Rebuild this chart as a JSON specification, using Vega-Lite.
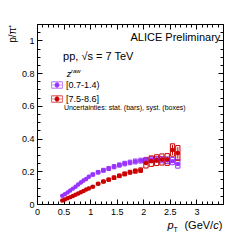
{
"$schema":"https://vega.github.io/schema/vega-lite/v6.json",
"width":186,"height":180,
"autosize":{"type":"none"},
"padding":{"left":37,"top":24,"right":25,"bottom":37},
"background":"white",
"config":{"view":{"stroke":null},"font":"Liberation Sans","axis":{"grid":false,"labelFont":"Liberation Sans","labelColor":"black","tickColor":"black","domainColor":"black","titleFont":"Liberation Sans","titleColor":"black","titleFontWeight":"normal"},"text":{"font":"Liberation Sans","color":"black"}},
"datasets":{"pts":[
{"s":"[0.7-1.4)","x":0.475,"y":0.050,"lo":0.048,"hi":0.052,"slo":0.046,"shi":0.054,"xlo":0.455,"xhi":0.495},
{"s":"[0.7-1.4)","x":0.525,"y":0.060,"lo":0.058,"hi":0.062,"slo":0.055,"shi":0.065,"xlo":0.505,"xhi":0.545},
{"s":"[0.7-1.4)","x":0.575,"y":0.071,"lo":0.069,"hi":0.073,"slo":0.066,"shi":0.076,"xlo":0.555,"xhi":0.595},
{"s":"[0.7-1.4)","x":0.625,"y":0.082,"lo":0.080,"hi":0.084,"slo":0.076,"shi":0.088,"xlo":0.605,"xhi":0.645},
{"s":"[0.7-1.4)","x":0.675,"y":0.094,"lo":0.092,"hi":0.096,"slo":0.088,"shi":0.100,"xlo":0.655,"xhi":0.695},
{"s":"[0.7-1.4)","x":0.725,"y":0.106,"lo":0.104,"hi":0.108,"slo":0.099,"shi":0.113,"xlo":0.705,"xhi":0.745},
{"s":"[0.7-1.4)","x":0.775,"y":0.119,"lo":0.117,"hi":0.121,"slo":0.112,"shi":0.126,"xlo":0.755,"xhi":0.795},
{"s":"[0.7-1.4)","x":0.825,"y":0.132,"lo":0.130,"hi":0.134,"slo":0.124,"shi":0.140,"xlo":0.805,"xhi":0.845},
{"s":"[0.7-1.4)","x":0.875,"y":0.143,"lo":0.141,"hi":0.145,"slo":0.135,"shi":0.151,"xlo":0.855,"xhi":0.895},
{"s":"[0.7-1.4)","x":0.925,"y":0.153,"lo":0.151,"hi":0.155,"slo":0.144,"shi":0.162,"xlo":0.905,"xhi":0.945},
{"s":"[0.7-1.4)","x":0.975,"y":0.166,"lo":0.164,"hi":0.168,"slo":0.157,"shi":0.175,"xlo":0.955,"xhi":0.995},
{"s":"[0.7-1.4)","x":1.05,"y":0.180,"lo":0.177,"hi":0.183,"slo":0.170,"shi":0.190,"xlo":1.015,"xhi":1.085},
{"s":"[0.7-1.4)","x":1.15,"y":0.194,"lo":0.191,"hi":0.197,"slo":0.183,"shi":0.205,"xlo":1.115,"xhi":1.185},
{"s":"[0.7-1.4)","x":1.25,"y":0.206,"lo":0.203,"hi":0.209,"slo":0.194,"shi":0.218,"xlo":1.215,"xhi":1.285},
{"s":"[0.7-1.4)","x":1.35,"y":0.217,"lo":0.214,"hi":0.220,"slo":0.205,"shi":0.229,"xlo":1.315,"xhi":1.385},
{"s":"[0.7-1.4)","x":1.45,"y":0.228,"lo":0.225,"hi":0.231,"slo":0.215,"shi":0.241,"xlo":1.415,"xhi":1.485},
{"s":"[0.7-1.4)","x":1.55,"y":0.238,"lo":0.234,"hi":0.242,"slo":0.225,"shi":0.251,"xlo":1.515,"xhi":1.585},
{"s":"[0.7-1.4)","x":1.65,"y":0.247,"lo":0.243,"hi":0.251,"slo":0.233,"shi":0.261,"xlo":1.615,"xhi":1.685},
{"s":"[0.7-1.4)","x":1.75,"y":0.254,"lo":0.250,"hi":0.258,"slo":0.240,"shi":0.268,"xlo":1.715,"xhi":1.785},
{"s":"[0.7-1.4)","x":1.85,"y":0.260,"lo":0.256,"hi":0.264,"slo":0.245,"shi":0.275,"xlo":1.815,"xhi":1.885},
{"s":"[0.7-1.4)","x":1.95,"y":0.265,"lo":0.260,"hi":0.270,"slo":0.250,"shi":0.280,"xlo":1.915,"xhi":1.985},
{"s":"[0.7-1.4)","x":2.05,"y":0.269,"lo":0.264,"hi":0.274,"slo":0.253,"shi":0.285,"xlo":2.01,"xhi":2.09},
{"s":"[0.7-1.4)","x":2.15,"y":0.272,"lo":0.266,"hi":0.278,"slo":0.255,"shi":0.289,"xlo":2.11,"xhi":2.19},
{"s":"[0.7-1.4)","x":2.25,"y":0.273,"lo":0.267,"hi":0.279,"slo":0.255,"shi":0.291,"xlo":2.21,"xhi":2.29},
{"s":"[0.7-1.4)","x":2.35,"y":0.271,"lo":0.264,"hi":0.278,"slo":0.252,"shi":0.290,"xlo":2.31,"xhi":2.39},
{"s":"[0.7-1.4)","x":2.45,"y":0.267,"lo":0.259,"hi":0.275,"slo":0.247,"shi":0.287,"xlo":2.41,"xhi":2.49},
{"s":"[0.7-1.4)","x":2.55,"y":0.262,"lo":0.252,"hi":0.272,"slo":0.240,"shi":0.284,"xlo":2.51,"xhi":2.59},
{"s":"[0.7-1.4)","x":2.65,"y":0.245,"lo":0.233,"hi":0.257,"slo":0.219,"shi":0.271,"xlo":2.61,"xhi":2.69},
{"s":"[7.5-8.6]","x":0.475,"y":0.022,"lo":0.020,"hi":0.024,"slo":0.019,"shi":0.025,"xlo":0.455,"xhi":0.495},
{"s":"[7.5-8.6]","x":0.525,"y":0.028,"lo":0.026,"hi":0.030,"slo":0.025,"shi":0.031,"xlo":0.505,"xhi":0.545},
{"s":"[7.5-8.6]","x":0.575,"y":0.035,"lo":0.033,"hi":0.037,"slo":0.032,"shi":0.038,"xlo":0.555,"xhi":0.595},
{"s":"[7.5-8.6]","x":0.625,"y":0.042,"lo":0.040,"hi":0.044,"slo":0.038,"shi":0.046,"xlo":0.605,"xhi":0.645},
{"s":"[7.5-8.6]","x":0.675,"y":0.049,"lo":0.047,"hi":0.051,"slo":0.045,"shi":0.053,"xlo":0.655,"xhi":0.695},
{"s":"[7.5-8.6]","x":0.725,"y":0.056,"lo":0.054,"hi":0.058,"slo":0.052,"shi":0.060,"xlo":0.705,"xhi":0.745},
{"s":"[7.5-8.6]","x":0.775,"y":0.064,"lo":0.062,"hi":0.066,"slo":0.059,"shi":0.069,"xlo":0.755,"xhi":0.795},
{"s":"[7.5-8.6]","x":0.825,"y":0.072,"lo":0.070,"hi":0.074,"slo":0.067,"shi":0.077,"xlo":0.805,"xhi":0.845},
{"s":"[7.5-8.6]","x":0.875,"y":0.080,"lo":0.078,"hi":0.082,"slo":0.074,"shi":0.086,"xlo":0.855,"xhi":0.895},
{"s":"[7.5-8.6]","x":0.925,"y":0.088,"lo":0.086,"hi":0.090,"slo":0.082,"shi":0.094,"xlo":0.905,"xhi":0.945},
{"s":"[7.5-8.6]","x":0.975,"y":0.095,"lo":0.093,"hi":0.097,"slo":0.088,"shi":0.102,"xlo":0.955,"xhi":0.995},
{"s":"[7.5-8.6]","x":1.05,"y":0.106,"lo":0.103,"hi":0.109,"slo":0.099,"shi":0.113,"xlo":1.015,"xhi":1.085},
{"s":"[7.5-8.6]","x":1.15,"y":0.124,"lo":0.121,"hi":0.127,"slo":0.116,"shi":0.132,"xlo":1.115,"xhi":1.185},
{"s":"[7.5-8.6]","x":1.25,"y":0.137,"lo":0.134,"hi":0.140,"slo":0.128,"shi":0.146,"xlo":1.215,"xhi":1.285},
{"s":"[7.5-8.6]","x":1.35,"y":0.149,"lo":0.145,"hi":0.153,"slo":0.139,"shi":0.159,"xlo":1.315,"xhi":1.385},
{"s":"[7.5-8.6]","x":1.45,"y":0.161,"lo":0.157,"hi":0.165,"slo":0.150,"shi":0.172,"xlo":1.415,"xhi":1.485},
{"s":"[7.5-8.6]","x":1.55,"y":0.172,"lo":0.168,"hi":0.176,"slo":0.161,"shi":0.183,"xlo":1.515,"xhi":1.585},
{"s":"[7.5-8.6]","x":1.65,"y":0.184,"lo":0.179,"hi":0.189,"slo":0.172,"shi":0.196,"xlo":1.615,"xhi":1.685},
{"s":"[7.5-8.6]","x":1.75,"y":0.194,"lo":0.189,"hi":0.199,"slo":0.182,"shi":0.206,"xlo":1.715,"xhi":1.785},
{"s":"[7.5-8.6]","x":1.85,"y":0.201,"lo":0.195,"hi":0.207,"slo":0.188,"shi":0.214,"xlo":1.815,"xhi":1.885},
{"s":"[7.5-8.6]","x":1.95,"y":0.207,"lo":0.201,"hi":0.213,"slo":0.193,"shi":0.221,"xlo":1.915,"xhi":1.985},
{"s":"[7.5-8.6]","x":2.05,"y":0.250,"lo":0.238,"hi":0.262,"slo":0.220,"shi":0.280,"xlo":2.01,"xhi":2.09},
{"s":"[7.5-8.6]","x":2.15,"y":0.262,"lo":0.250,"hi":0.274,"slo":0.230,"shi":0.294,"xlo":2.11,"xhi":2.19},
{"s":"[7.5-8.6]","x":2.25,"y":0.268,"lo":0.255,"hi":0.281,"slo":0.235,"shi":0.301,"xlo":2.21,"xhi":2.29},
{"s":"[7.5-8.6]","x":2.35,"y":0.272,"lo":0.257,"hi":0.287,"slo":0.238,"shi":0.306,"xlo":2.31,"xhi":2.39},
{"s":"[7.5-8.6]","x":2.45,"y":0.272,"lo":0.254,"hi":0.290,"slo":0.236,"shi":0.308,"xlo":2.41,"xhi":2.49},
{"s":"[7.5-8.6]","x":2.55,"y":0.330,"lo":0.300,"hi":0.360,"slo":0.292,"shi":0.368,"xlo":2.51,"xhi":2.59},
{"s":"[7.5-8.6]","x":2.65,"y":0.312,"lo":0.277,"hi":0.347,"slo":0.267,"shi":0.357,"xlo":2.61,"xhi":2.69}
]},
"resolve":{"axis":{"x":"independent","y":"independent"}},
"layer":[
{"data":{"name":"pts"},"mark":{"type":"rect","filled":false,"strokeWidth":1},
 "encoding":{
  "x":{"field":"xlo","type":"quantitative","scale":{"domain":[0,3.5],"nice":false,"zero":false},
   "axis":{"orient":"bottom","values":[0,0.5,1,1.5,2,2.5,3],"format":"~g","tickSize":-5,"labelFontSize":9,"labelPadding":8,"labelFlush":false,"labelOverlap":false,"domain":true,"title":null}},
  "x2":{"field":"xhi"},
  "y":{"field":"slo","type":"quantitative","scale":{"domain":[0,1.1],"nice":false,"zero":false},
   "axis":{"orient":"left","values":[0,0.2,0.4,0.6,0.8,1],"format":"~g","tickSize":-5,"labelFontSize":9,"labelPadding":8,"labelFlush":false,"labelOverlap":false,"domain":true,"title":"p/π⁺","titleAnchor":"end","titleFontSize":10,"titlePadding":4}},
  "y2":{"field":"shi"},
  "color":{"field":"s","type":"nominal","scale":{"domain":["[0.7-1.4)","[7.5-8.6]"],"range":["#9933ff","#cc0000"]}}
 }},
{"data":{"name":"pts"},"mark":{"type":"rule","strokeWidth":1},
 "encoding":{
  "x":{"field":"x","type":"quantitative","scale":{"domain":[0,3.5],"nice":false,"zero":false},
   "axis":{"orient":"bottom","values":[0,0.1,0.2,0.3,0.4,0.5,0.6,0.7,0.8,0.9,1,1.1,1.2,1.3,1.4,1.5,1.6,1.7,1.8,1.9,2,2.1,2.2,2.3,2.4,2.5,2.6,2.7,2.8,2.9,3,3.1,3.2,3.3,3.4,3.5],"tickSize":-3,"labels":false,"domain":false,"title":null}},
  "y":{"field":"lo","type":"quantitative","scale":{"domain":[0,1.1],"nice":false,"zero":false},
   "axis":{"orient":"left","values":[0,0.05,0.1,0.15,0.2,0.25,0.3,0.35,0.4,0.45,0.5,0.55,0.6,0.65,0.7,0.75,0.8,0.85,0.9,0.95,1,1.05,1.1],"tickSize":-3,"labels":false,"domain":false,"title":null}},
  "y2":{"field":"hi"},
  "color":{"field":"s","type":"nominal","scale":{"domain":["[0.7-1.4)","[7.5-8.6]"],"range":["#9933ff","#cc0000"]}}
 }},
{"data":{"name":"pts"},"mark":{"type":"rule","strokeWidth":1},
 "encoding":{
  "x":{"field":"xlo","type":"quantitative","scale":{"domain":[0,3.5],"nice":false,"zero":false},
   "axis":{"orient":"top","values":[0,0.1,0.2,0.3,0.4,0.5,0.6,0.7,0.8,0.9,1,1.1,1.2,1.3,1.4,1.5,1.6,1.7,1.8,1.9,2,2.1,2.2,2.3,2.4,2.5,2.6,2.7,2.8,2.9,3,3.1,3.2,3.3,3.4,3.5],"tickSize":-3,"labels":false,"domain":false,"title":null}},
  "x2":{"field":"xhi"},
  "y":{"field":"y","type":"quantitative","scale":{"domain":[0,1.1],"nice":false,"zero":false},
   "axis":{"orient":"right","values":[0,0.05,0.1,0.15,0.2,0.25,0.3,0.35,0.4,0.45,0.5,0.55,0.6,0.65,0.7,0.75,0.8,0.85,0.9,0.95,1,1.05,1.1],"tickSize":-3,"labels":false,"domain":false,"title":null}},
  "color":{"field":"s","type":"nominal","scale":{"domain":["[0.7-1.4)","[7.5-8.6]"],"range":["#9933ff","#cc0000"]}}
 }},
{"data":{"name":"pts"},"mark":{"type":"point","filled":true,"shape":"circle","size":20,"opacity":1},
 "encoding":{
  "x":{"field":"x","type":"quantitative","scale":{"domain":[0,3.5],"nice":false,"zero":false},
   "axis":{"orient":"top","values":[0,0.5,1,1.5,2,2.5,3],"tickSize":-5,"labels":false,"domain":true,"title":null}},
  "y":{"field":"y","type":"quantitative","scale":{"domain":[0,1.1],"nice":false,"zero":false},
   "axis":{"orient":"right","values":[0,0.2,0.4,0.6,0.8,1],"tickSize":-5,"labels":false,"domain":true,"title":null}},
  "color":{"field":"s","type":"nominal","scale":{"domain":["[0.7-1.4)","[7.5-8.6]"],"range":["#9933ff","#cc0000"]},
   "legend":{"orient":"none","legendX":14,"legendY":55,"title":null,"padding":0,"rowPadding":3,"labelOffset":3,"labelFontSize":9,"labelFont":"Liberation Sans","labelColor":"black","symbolSize":128,"symbolStrokeWidth":0,"symbolOpacity":1,"symbolFillColor":null,
    "symbolType":"M-1,-0.6H1V0.6H-1Z M-0.9,-0.5V0.5H0.9V-0.5Z M-1,-0.05H1V0.05H-1Z M-0.05,-0.6H0.05V0.6H-0.05Z M0.42,0A0.42,0.42 0 1,1 -0.42,0A0.42,0.42 0 1,1 0.42,0Z"}}
 }},
{"data":{"values":[{}]},"mark":{"type":"text","text":"ALICE Preliminary","align":"right","baseline":"alphabetic","fontSize":11},
 "encoding":{"x":{"datum":3.45,"type":"quantitative","scale":{"domain":[0,3.5],"nice":false,"zero":false},"axis":null},"y":{"datum":0.998,"type":"quantitative","scale":{"domain":[0,1.1],"nice":false,"zero":false},"axis":null}}},
{"data":{"values":[{}]},"mark":{"type":"text","text":"pp, √s = 7 TeV","align":"left","baseline":"alphabetic","fontSize":11},
 "encoding":{"x":{"datum":0.49,"type":"quantitative","scale":{"domain":[0,3.5],"nice":false,"zero":false},"axis":null},"y":{"datum":0.879,"type":"quantitative","scale":{"domain":[0,1.1],"nice":false,"zero":false},"axis":null}}},
{"data":{"values":[{}]},"mark":{"type":"text","text":"z","align":"left","baseline":"alphabetic","fontSize":9,"fontStyle":"italic"},
 "encoding":{"x":{"datum":0.56,"type":"quantitative","scale":{"domain":[0,3.5],"nice":false,"zero":false},"axis":null},"y":{"datum":0.776,"type":"quantitative","scale":{"domain":[0,1.1],"nice":false,"zero":false},"axis":null}}},
{"data":{"values":[{}]},"mark":{"type":"text","text":"raw","align":"left","baseline":"alphabetic","fontSize":6,"fontStyle":"italic"},
 "encoding":{"x":{"datum":0.64,"type":"quantitative","scale":{"domain":[0,3.5],"nice":false,"zero":false},"axis":null},"y":{"datum":0.8,"type":"quantitative","scale":{"domain":[0,1.1],"nice":false,"zero":false},"axis":null}}},
{"data":{"values":[{}]},"mark":{"type":"text","text":"Uncertainties: stat. (bars), syst. (boxes)","align":"left","baseline":"alphabetic","fontSize":7},
 "encoding":{"x":{"datum":0.506,"type":"quantitative","scale":{"domain":[0,3.5],"nice":false,"zero":false},"axis":null},"y":{"datum":0.572,"type":"quantitative","scale":{"domain":[0,1.1],"nice":false,"zero":false},"axis":null}}},
{"data":{"values":[{}]},"mark":{"type":"text","text":"p","align":"left","baseline":"alphabetic","fontSize":11,"fontStyle":"italic"},
 "encoding":{"x":{"datum":2.456,"type":"quantitative","scale":{"domain":[0,3.5],"nice":false,"zero":false},"axis":null},"y":{"datum":-0.155,"type":"quantitative","scale":{"domain":[0,1.1],"nice":false,"zero":false},"axis":null}}},
{"data":{"values":[{}]},"mark":{"type":"text","text":"T","align":"left","baseline":"alphabetic","fontSize":7},
 "encoding":{"x":{"datum":2.569,"type":"quantitative","scale":{"domain":[0,3.5],"nice":false,"zero":false},"axis":null},"y":{"datum":-0.173,"type":"quantitative","scale":{"domain":[0,1.1],"nice":false,"zero":false},"axis":null}}},
{"data":{"values":[{}]},"mark":{"type":"text","text":"(GeV/","align":"right","baseline":"alphabetic","fontSize":11},
 "encoding":{"x":{"datum":3.315,"type":"quantitative","scale":{"domain":[0,3.5],"nice":false,"zero":false},"axis":null},"y":{"datum":-0.155,"type":"quantitative","scale":{"domain":[0,1.1],"nice":false,"zero":false},"axis":null}}},
{"data":{"values":[{}]},"mark":{"type":"text","text":"c","align":"right","baseline":"alphabetic","fontSize":11,"fontStyle":"italic"},
 "encoding":{"x":{"datum":3.418,"type":"quantitative","scale":{"domain":[0,3.5],"nice":false,"zero":false},"axis":null},"y":{"datum":-0.155,"type":"quantitative","scale":{"domain":[0,1.1],"nice":false,"zero":false},"axis":null}}},
{"data":{"values":[{}]},"mark":{"type":"text","text":")","align":"right","baseline":"alphabetic","fontSize":11},
 "encoding":{"x":{"datum":3.4875,"type":"quantitative","scale":{"domain":[0,3.5],"nice":false,"zero":false},"axis":null},"y":{"datum":-0.155,"type":"quantitative","scale":{"domain":[0,1.1],"nice":false,"zero":false},"axis":null}}}
]
}
